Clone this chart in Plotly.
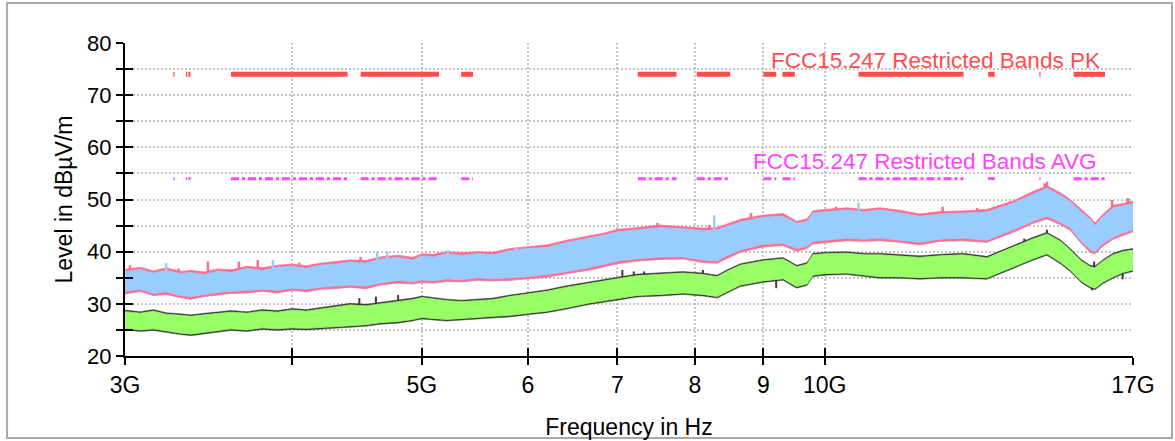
import math
import plotly.graph_objects as go

# ---------------- data (GHz / dBuV/m) ----------------
freq_ghz = [
    3.00, 3.08, 3.15, 3.22, 3.30, 3.36, 3.44, 3.52, 3.60, 3.70,
    3.80, 3.90, 4.00, 4.10, 4.20, 4.30, 4.42, 4.54, 4.66, 4.80,
    4.92, 5.00, 5.10, 5.22, 5.35, 5.50, 5.65, 5.82, 6.00, 6.20,
    6.42, 6.68, 6.85, 7.00, 7.24, 7.53, 7.84, 8.11, 8.31, 8.45,
    8.65, 8.99, 9.31, 9.53, 9.70, 9.80, 10.0, 10.39, 10.7, 11.0,
    11.4, 11.78, 12.2, 12.69, 13.22, 13.83, 14.3, 14.66, 15.0, 15.26,
    15.55, 15.79, 15.92, 16.15, 16.43, 16.7, 17.0,
]

# Peak trace (pink) envelope
pk_upper = [
    36.6, 37.0, 36.3, 36.9, 36.2, 36.4, 36.1, 36.7, 36.5, 37.2,
    36.9, 37.4, 37.6, 37.3, 37.8, 38.1, 38.4, 38.3, 39.0, 39.3,
    38.9, 39.6, 39.5, 40.0, 39.8, 40.0, 39.9, 40.6, 41.0, 41.3,
    42.2, 43.1, 43.6, 44.3, 44.6, 45.1, 44.8, 44.5, 44.6, 45.3,
    46.2, 47.0, 47.3, 45.8, 46.3, 47.8, 48.1, 48.4, 48.1, 48.4,
    47.9, 47.2, 47.7, 47.8, 48.1, 49.7, 51.5, 52.6, 51.3, 50.0,
    48.1, 46.6, 45.5, 47.2, 48.9, 49.2, 49.7,
]
pk_lower = [
    31.9, 32.4, 31.6, 31.8, 31.2, 30.9, 31.4, 31.7, 32.0, 32.1,
    32.4, 32.1, 32.6, 32.3, 32.8, 32.9, 33.2, 32.9, 33.6, 34.0,
    33.8, 34.1, 34.0, 34.3, 34.2, 34.5, 34.4, 34.5, 34.8, 35.1,
    35.8, 36.5, 37.2, 37.7, 38.2, 38.5, 38.6, 37.9, 37.8, 38.7,
    39.9, 40.9, 41.2, 40.1, 40.6, 41.5, 41.8, 42.1, 42.0, 42.1,
    41.8, 41.3, 42.0, 42.1, 41.8, 43.7, 45.4, 46.3, 45.2, 44.1,
    41.6, 39.9, 39.6, 41.1, 42.4, 43.1, 43.8,
]
pk_spike_ghz = [3.026, 3.29, 3.46, 3.65, 3.77, 4.05, 4.50, 6.33, 6.84, 7.5,
                8.2, 8.81, 9.23, 10.2, 12.25, 13.0, 13.75, 14.6, 14.66, 16.4, 16.85]
pk_spike_top = [37.4, 36.8, 38.1, 38.1, 38.4, 37.9, 39.0, 41.7, 43.2, 45.5,
                45.1, 47.4, 47.2, 48.6, 48.6, 48.4, 49.6, 53.1, 53.4, 49.9, 50.3]
pk_spike_base = [35.0, 34.5, 35.5, 35.5, 35.8, 35.5, 36.5, 39.0, 40.5, 43.0,
                 42.5, 44.5, 44.5, 46.0, 45.5, 45.5, 47.0, 50.5, 50.5, 47.0, 47.5]

# Peak trace (light blue) envelope
blue_upper = [
    36.2, 36.6, 35.9, 36.4, 35.8, 36.0, 35.6, 36.3, 36.0, 36.8,
    36.4, 37.0, 37.2, 36.8, 37.4, 37.6, 38.0, 37.8, 38.6, 38.9,
    38.4, 39.2, 39.0, 39.6, 39.3, 39.6, 39.4, 40.2, 40.6, 40.8,
    41.8, 42.6, 43.2, 43.8, 44.2, 44.6, 44.4, 44.0, 44.2, 44.8,
    45.7, 46.6, 46.8, 45.4, 45.8, 47.4, 47.6, 48.0, 47.6, 48.0,
    47.4, 46.8, 47.2, 47.4, 47.6, 49.3, 51.0, 52.2, 50.8, 49.6,
    47.6, 46.2, 45.0, 46.8, 48.4, 48.8, 49.2,
]
blue_lower = [
    32.4, 32.8, 32.0, 32.3, 31.6, 31.4, 31.8, 32.2, 32.4, 32.6,
    32.8, 32.6, 33.0, 32.8, 33.2, 33.4, 33.6, 33.4, 34.0, 34.5,
    34.2, 34.6, 34.4, 34.8, 34.6, 35.0, 34.8, 35.0, 35.2, 35.6,
    36.2, 37.0, 37.6, 38.2, 38.6, 39.0, 39.0, 38.4, 38.2, 39.2,
    40.3, 41.4, 41.6, 40.6, 41.0, 42.0, 42.2, 42.6, 42.4, 42.6,
    42.2, 41.8, 42.4, 42.6, 42.2, 44.2, 45.8, 46.8, 45.6, 44.6,
    42.0, 40.4, 40.0, 41.6, 42.8, 43.6, 44.2,
]
blue_spike_ghz = [3.22, 3.87, 4.63, 4.71, 5.23, 5.88, 8.27, 10.6]
blue_spike_top = [37.8, 38.4, 40.0, 40.0, 40.3, 40.9, 47.0, 49.4]
blue_spike_base = [35.0, 36.0, 37.5, 37.5, 38.0, 38.5, 43.0, 46.5]

# Average trace (dark) envelope
avg_dark_upper = [
    28.8, 28.5, 28.9, 28.3, 28.1, 27.9, 28.2, 28.5, 28.7, 28.5,
    28.9, 28.7, 29.1, 28.9, 29.3, 29.7, 30.1, 29.9, 30.3, 30.7,
    31.1, 31.5, 31.2, 30.9, 30.7, 30.9, 31.1, 31.7, 32.2, 32.7,
    33.5, 34.3, 34.7, 35.1, 35.7, 35.9, 36.2, 35.9, 35.5, 36.5,
    37.7, 38.5, 38.9, 37.4, 37.9, 39.7, 39.9, 40.0, 39.7, 39.7,
    39.5, 39.2, 39.5, 39.7, 39.1, 41.2, 42.7, 43.7, 42.3, 40.6,
    38.5, 37.4, 37.2, 38.5, 39.7, 40.3, 40.6,
]
avg_dark_lower = [
    25.0, 24.7, 24.9, 24.5, 24.1, 23.9, 24.2, 24.6, 24.9, 24.7,
    25.1, 24.9, 25.1, 25.0, 25.2, 25.3, 25.5, 25.7, 26.1, 26.3,
    26.7, 27.1, 26.9, 26.7, 26.9, 27.1, 27.3, 27.5, 27.9, 28.3,
    29.0, 29.9, 30.3, 30.7, 31.3, 31.5, 31.8, 31.5, 31.1, 32.1,
    33.3, 34.1, 34.5, 33.0, 33.5, 35.2, 35.5, 35.6, 35.3, 34.9,
    34.9, 34.7, 34.9, 34.9, 34.7, 36.8, 38.3, 39.3, 37.7, 36.2,
    34.1, 33.0, 32.7, 33.9, 34.9, 35.7, 36.2,
]
dark_spike_ghz = [4.49, 4.62, 4.80, 4.99, 7.06, 7.20, 7.33, 8.11, 8.95, 14.1,
                  14.66, 14.95, 15.9, 3.4, 9.2, 15.84, 16.7]
dark_spike_top = [31.1, 31.4, 31.7, 31.1, 36.5, 36.2, 36.2, 36.5, 38.1, 42.5,
                  44.2, 42.2, 38.1, 24.0, 33.0, 32.6, 34.7]
dark_spike_base = [28.5, 28.5, 29.0, 29.0, 33.5, 33.5, 33.5, 33.5, 35.5, 40.0,
                   41.5, 39.5, 35.5, 26.0, 36.0, 35.0, 37.0]

# Average trace (green) envelope
green_upper = [
    28.5, 28.2, 28.6, 28.0, 27.8, 27.6, 27.9, 28.2, 28.4, 28.2,
    28.6, 28.4, 28.8, 28.6, 29.0, 29.4, 29.8, 29.6, 30.0, 30.4,
    30.8, 31.2, 30.9, 30.6, 30.4, 30.6, 30.8, 31.4, 31.9, 32.4,
    33.2, 34.0, 34.4, 34.8, 35.4, 35.6, 35.9, 35.6, 35.2, 36.2,
    37.4, 38.2, 38.6, 37.1, 37.6, 39.4, 39.6, 39.7, 39.4, 39.4,
    39.2, 38.9, 39.2, 39.4, 38.8, 40.9, 42.4, 43.4, 42.0, 40.3,
    38.2, 37.1, 36.9, 38.2, 39.4, 40.0, 40.3,
]
green_lower = [
    25.3, 25.0, 25.2, 24.8, 24.4, 24.2, 24.5, 24.9, 25.2, 25.0,
    25.4, 25.2, 25.4, 25.3, 25.5, 25.6, 25.8, 26.0, 26.4, 26.6,
    27.0, 27.4, 27.2, 27.0, 27.2, 27.4, 27.6, 27.8, 28.2, 28.6,
    29.3, 30.2, 30.6, 31.0, 31.6, 31.8, 32.1, 31.8, 31.4, 32.4,
    33.6, 34.4, 34.8, 33.3, 33.8, 35.5, 35.8, 35.9, 35.6, 35.2,
    35.2, 35.0, 35.2, 35.2, 35.0, 37.1, 38.6, 39.6, 38.0, 36.5,
    34.4, 33.3, 33.0, 34.2, 35.2, 36.0, 36.5,
]

# FCC restricted bands (GHz) and limits
band_start = [3.260, 3.332, 3.3458, 3.600, 4.500, 5.350, 7.250, 8.025, 9.000, 9.300, 10.600, 13.250, 14.470, 15.350]
band_stop = [3.267, 3.339, 3.358, 4.400, 5.150, 5.460, 7.750, 8.500, 9.200, 9.500, 12.700, 13.400, 14.500, 16.200]
limit_pk = 74.0
limit_avg = 54.0

x_tick_ghz = [3, 4, 5, 6, 7, 8, 9, 10, 17]
x_tick_text = ["3G", "", "5G", "6", "7", "8", "9", "10G", "17G"]
y_tick_vals = [20, 25, 30, 35, 40, 45, 50, 55, 60, 65, 70, 75, 80]
y_tick_text = ["20", "", "30", "", "40", "", "50", "", "60", "", "70", "", "80"]

# ---------------- figure ----------------
FONT = "Liberation Sans, Arial, Helvetica, sans-serif"
NARROW = "Liberation Sans Narrow, Arial Narrow, Liberation Sans, sans-serif"
hz = [f * 1e9 for f in freq_ghz]


def band(upper, lower, color, lw=0.8):
    return go.Scatter(
        x=hz + hz[::-1], y=upper + lower[::-1], mode="lines",
        fill="toself", fillcolor=color, line=dict(color=color, width=lw),
        hoverinfo="skip",
    )


def spikes(fghz, base, top, color, width=2):
    xs, ys = [], []
    for f, b, t in zip(fghz, base, top):
        xs += [f * 1e9, f * 1e9, None]
        ys += [b, t, None]
    return go.Scatter(x=xs, y=ys, mode="lines", line=dict(color=color, width=width),
                      hoverinfo="skip")


PINK, BLUE, DARK, GREEN = "#ff6c90", "#99ccff", "#3a3a3a", "#99ff66"

fig = go.Figure()
fig.add_trace(band(pk_upper, pk_lower, PINK))
fig.add_trace(spikes(pk_spike_ghz, pk_spike_base, pk_spike_top, PINK, 2.5))
fig.add_trace(band(blue_upper, blue_lower, BLUE))
fig.add_trace(spikes(blue_spike_ghz, blue_spike_base, blue_spike_top, BLUE, 2.5))
fig.add_trace(band(avg_dark_upper, avg_dark_lower, DARK, 0.5))
fig.add_trace(spikes(dark_spike_ghz, dark_spike_base, dark_spike_top, DARK, 2))
fig.add_trace(band(green_upper, green_lower, GREEN))

lx, ly_pk, ly_avg = [], [], []
for a, b in zip(band_start, band_stop):
    lx += [a * 1e9, b * 1e9, None]
    ly_pk += [limit_pk, limit_pk, None]
    ly_avg += [limit_avg, limit_avg, None]

fig.add_trace(go.Scatter(x=lx, y=ly_avg, mode="lines",
                         line=dict(color="#ff44ff", width=3, dash="8px,3px,3px,3px")))
fig.add_trace(go.Scatter(x=lx, y=ly_pk, mode="lines",
                         line=dict(color="#ff4d4d", width=5)))

# dummy trace for the overlay axes (inner tick marks)
fig.add_trace(go.Scatter(x=[None], y=[None], xaxis="x2", yaxis="y2", mode="lines"))

xr = [math.log10(3e9), math.log10(17e9)]
tickvals_hz = [t * 1e9 for t in x_tick_ghz]
grid = dict(showgrid=True, gridcolor="#c4c4c4", gridwidth=2, griddash="2px,2px")

fig.update_layout(
    width=1175, height=441,
    margin=dict(l=125, r=42, t=43, b=85),
    paper_bgcolor="white", plot_bgcolor="white",
    showlegend=False,
    font=dict(family=FONT, size=21, color="black"),
    xaxis=dict(type="log", range=xr, tickvals=tickvals_hz, ticktext=x_tick_text,
               ticks="outside", ticklen=7, tickwidth=2, tickcolor="black",
               showline=True, linecolor="black", linewidth=2, zeroline=False,
               ticklabelstandoff=0, automargin=False,
               tickfont=dict(family=NARROW, size=23),
               title=dict(text="Frequency in Hz", standoff=22,
                          font=dict(family=NARROW, size=23)), **grid),
    yaxis=dict(range=[20, 80], tickvals=y_tick_vals, ticktext=y_tick_text,
               ticks="outside", ticklen=7, tickwidth=2, tickcolor="black",
               showline=True, linecolor="black", linewidth=2, zeroline=False,
               ticklabelstandoff=0, automargin=False,
               tickfont=dict(family=FONT, size=22),
               title=dict(text="Level in dBµV/m", standoff=8,
                          font=dict(family=NARROW, size=23)), **grid),
    xaxis2=dict(type="log", range=xr, tickvals=tickvals_hz, overlaying="x",
                anchor="y", side="bottom", ticks="inside", ticklen=8, tickwidth=2,
                tickcolor="black", showticklabels=False, showgrid=False,
                showline=False, zeroline=False),
    yaxis2=dict(range=[20, 80], tickvals=y_tick_vals, overlaying="y",
                anchor="x", side="left", ticks="inside", ticklen=8, tickwidth=2,
                tickcolor="black", showticklabels=False, showgrid=False,
                showline=False, zeroline=False),
    annotations=[
        dict(text="FCC15.247 Restricted Bands PK", xref="paper", yref="y",
             x=0.639, y=76.7, xanchor="left", yanchor="middle", showarrow=False,
             font=dict(family=FONT, size=22.5, color="#ff4d4d")),
        dict(text="FCC15.247 Restricted Bands AVG", xref="paper", yref="y",
             x=0.621, y=57.2, xanchor="left", yanchor="middle", showarrow=False,
             font=dict(family=FONT, size=22.5, color="#ff44ff")),
    ],
    shapes=[
        dict(type="rect", xref="paper", yref="paper", x0=-0.117, x1=1.0387,
             y0=-0.262, y1=1.128, line=dict(color="#a8a8a8", width=2),
             fillcolor="rgba(0,0,0,0)", layer="below"),
    ],
)

fig.write_html("out.html", config={"displayModeBar": False},
               post_script="document.body.style.margin='0';")
